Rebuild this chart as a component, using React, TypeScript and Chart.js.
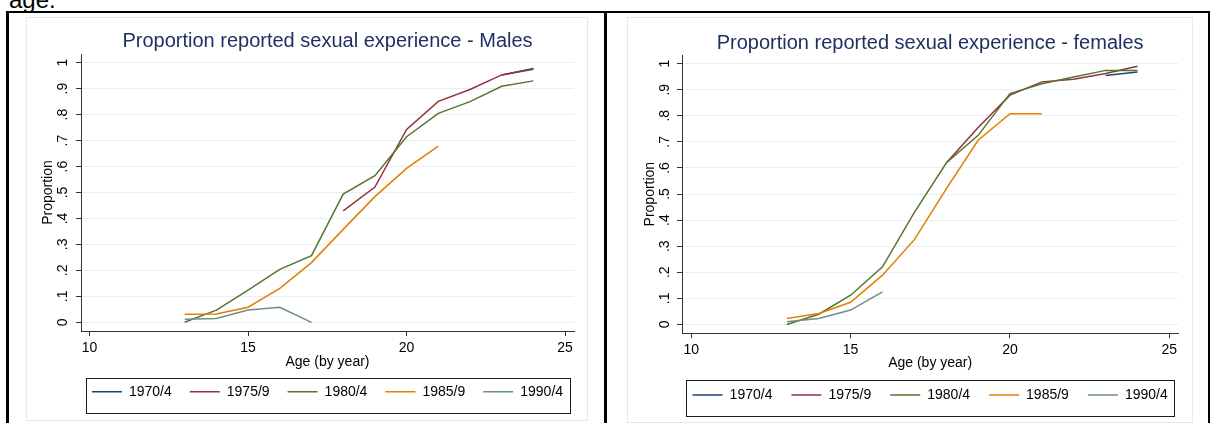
import React, { useEffect, useRef } from 'react';
import { Chart, registerables } from 'chart.js';

Chart.register(...registerables);

// ---------- data ----------
const ages = [13, 14, 15, 16, 17, 18, 19, 20, 21, 22, 23, 24];
const seriesLabels = ['1970/4', '1975/9', '1980/4', '1985/9', '1990/4'];
const seriesColors = ['#1a476f', '#90353b', '#55752f', '#e37e00', '#6e8e84'];

// Males
const males1970 = [null, null, null, null, null, null, null, null, null, null, 0.953, 0.978];
const males1975 = [null, null, null, null, null, 0.429, 0.521, 0.743, 0.851, 0.897, 0.953, 0.975];
const males1980 = [0.0, 0.047, 0.124, 0.204, 0.257, 0.494, 0.565, 0.715, 0.805, 0.85, 0.909, 0.93];
const males1985 = [0.031, 0.032, 0.058, 0.131, 0.23, 0.358, 0.484, 0.593, 0.679, null, null, null];
const males1990 = [0.012, 0.015, 0.047, 0.058, 0.0, null, null, null, null, null, null, null];

// Females
const females1970 = [null, null, null, null, null, null, null, null, null, null, 0.954, 0.968];
const females1975 = [null, null, null, null, null, 0.619, 0.755, 0.879, 0.93, 0.94, 0.962, 0.99];
const females1980 = [0.0, 0.039, 0.112, 0.221, 0.43, 0.619, 0.725, 0.885, 0.923, 0.949, 0.974, 0.974];
const females1985 = [0.023, 0.042, 0.085, 0.189, 0.325, 0.52, 0.706, 0.808, 0.808, null, null, null];
const females1990 = [0.01, 0.023, 0.055, 0.125, null, null, null, null, null, null, null, null];

const xTickValues = [10, 15, 20, 25];
const xTickLabels = ['10', '15', '20', '25'];
const yTickValues = [0, 0.1, 0.2, 0.3, 0.4, 0.5, 0.6, 0.7, 0.8, 0.9, 1];
const yTickLabels = ['0', '.1', '.2', '.3', '.4', '.5', '.6', '.7', '.8', '.9', '1'];

const FONT = "'Liberation Sans', Arial, sans-serif";

const legendBoxPlugin = {
  id: 'legendBox',
  afterLayout(chart: any) {
    const lg = chart.legend;
    if (!lg) return;
    const w = lg.right - lg.left;
    const c = (chart.chartArea.left + chart.chartArea.right) / 2;
    lg.left = c - w / 2;
    lg.right = c + w / 2;
  },
  afterDraw(chart: any, _args: any, opts: any) {
    const lg = chart.legend;
    if (!lg || !lg.legendHitBoxes || !lg.legendHitBoxes.length) return;
    const hb = lg.legendHitBoxes;
    const first = hb[0];
    const last = hb[hb.length - 1];
    const cy = first.top + first.height / 2;
    const l = Math.round(first.left - opts.padLeft) + 0.5;
    const r = Math.round(last.left + last.width + opts.padRight) + 0.5;
    const t = Math.round(cy - opts.above) + 0.5;
    const b = Math.round(cy + opts.below) + 0.5;
    const ctx = chart.ctx;
    ctx.save();
    ctx.strokeStyle = '#1a1a1a';
    ctx.lineWidth = 1;
    ctx.strokeRect(l, t, r - l, b - t);
    ctx.restore();
  },
};

type Geo = {
  left: number; top: number; width: number; height: number;
  titlePadTop: number; titlePadBottom: number;
  yAxisWidth: number; yTickPad: number; yTitlePad: number;
  xAxisHeight: number; xTickPad: number; xTitlePadB: number;
  legendPad: number; boxAbove: number; boxBelow: number; boxPadL: number; boxPadR: number;
  padRight: number; padBottom: number;
  xMin: number; xMax: number; yMin: number; yMax: number;
};

function StataChart({ title, series, geo }: { title: string; series: (number | null)[][]; geo: Geo }) {
  const ref = useRef<HTMLCanvasElement | null>(null);
  useEffect(() => {
    if (!ref.current) return;
    const datasets = series.map((vals, i) => ({
      label: seriesLabels[i],
      data: ages.map((a, j) => ({ x: a, y: vals[j] })),
      borderColor: seriesColors[i],
      backgroundColor: seriesColors[i],
      borderWidth: 1.5,
      pointRadius: 0,
      pointHoverRadius: 0,
      fill: false,
      tension: 0,
      spanGaps: false,
      order: series.length - i,
    }));
    const chart = new Chart(ref.current, {
      type: 'line',
      data: { datasets },
      plugins: [legendBoxPlugin],
      options: {
        animation: false,
        responsive: false,
        maintainAspectRatio: false,
        layout: { padding: { top: 0, left: 0, right: geo.padRight, bottom: geo.padBottom } },
        font: { family: FONT },
        scales: {
          x: {
            type: 'linear',
            min: geo.xMin,
            max: geo.xMax,
            afterBuildTicks: (axis: any) => { axis.ticks = xTickValues.map((v) => ({ value: v })); },
            afterFit: (axis: any) => { axis.height = geo.xAxisHeight; },
            ticks: {
              callback: (_v: any, i: number) => xTickLabels[i],
              autoSkip: false, minRotation: 0, maxRotation: 0,
              padding: geo.xTickPad,
              font: { family: FONT, size: 14 }, color: '#000',
            },
            grid: { drawOnChartArea: false, tickLength: 5, tickColor: '#333', color: '#333' },
            border: { color: '#333', width: 1 },
            title: {
              display: true, text: 'Age (by year)', color: '#000',
              font: { family: FONT, size: 14 }, padding: { top: 0, bottom: geo.xTitlePadB },
            },
          },
          y: {
            type: 'linear',
            min: geo.yMin,
            max: geo.yMax,
            afterBuildTicks: (axis: any) => { axis.ticks = yTickValues.map((v) => ({ value: v })); },
            afterFit: (axis: any) => { axis.width = geo.yAxisWidth; },
            ticks: {
              callback: (_v: any, i: number) => yTickLabels[i],
              autoSkip: false, minRotation: 90, maxRotation: 90, crossAlign: 'center',
              padding: geo.yTickPad,
              font: { family: FONT, size: 14 }, color: '#000',
            },
            grid: { color: '#e7eff2', lineWidth: 1, tickLength: 5, tickColor: '#333' },
            border: { color: '#333', width: 1 },
            title: {
              display: true, text: 'Proportion', color: '#000',
              font: { family: FONT, size: 14 }, padding: { top: geo.yTitlePad, bottom: 0 },
            },
          },
        },
        plugins: {
          title: {
            display: true, text: title, fullSize: false, color: '#1e3160',
            font: { family: FONT, size: 20, weight: 'normal' },
            padding: { top: geo.titlePadTop, bottom: geo.titlePadBottom },
          },
          legend: {
            display: true, position: 'bottom', fullSize: true,
            labels: {
              usePointStyle: true, pointStyle: 'line', pointStyleWidth: 30,
              padding: geo.legendPad, color: '#000',
              font: { family: FONT, size: 14 },
              sort: (a: any, b: any) => a.datasetIndex - b.datasetIndex,
            },
          },
          tooltip: { enabled: false },
          legendBox: { above: geo.boxAbove, below: geo.boxBelow, padLeft: geo.boxPadL, padRight: geo.boxPadR },
        } as any,
      } as any,
    });
    return () => chart.destroy();
  }, []);
  const cw = geo.width - 2;
  const ch = geo.height - 2;
  return (
    <div style={{ position: 'absolute', left: geo.left, top: geo.top, width: cw, height: ch, border: '1px solid #e2eaed', background: '#fff' }}>
      <canvas ref={ref} width={cw} height={ch} style={{ display: 'block', width: cw, height: ch }} />
    </div>
  );
}

const geoMales: Geo = {
  left: 26, top: 17, width: 562, height: 404,
  titlePadTop: 11.5, titlePadBottom: 0.5,
  yAxisWidth: 54, yTickPad: 7, yTitlePad: 12.9,
  xAxisHeight: 35.7, xTickPad: 3.6, xTitlePadB: -3.7,
  legendPad: 18, boxAbove: 14, boxBelow: 21, boxPadL: 6, boxPadR: 6.6,
  padRight: 13, padBottom: 11.3,
  xMin: 9.73, xMax: 25.28, yMin: -0.0335, yMax: 1.0335,
};

const geoFemales: Geo = {
  left: 627, top: 17, width: 566, height: 406,
  titlePadTop: 13.2, titlePadBottom: -0.2,
  yAxisWidth: 54, yTickPad: 6.2, yTitlePad: 13.6,
  xAxisHeight: 35.7, xTickPad: 3.3, xTitlePadB: -2.4,
  legendPad: 19, boxAbove: 15, boxBelow: 21, boxPadL: 6.3, boxPadR: 6.3,
  padRight: 13.7, padBottom: 10,
  xMin: 9.71, xMax: 25.28, yMin: -0.034, yMax: 1.033,
};

export default function App() {
  const line = (s: React.CSSProperties) => <div style={{ position: 'absolute', background: '#000', ...s }} />;
  return (
    <div style={{ position: 'fixed', left: 0, top: 0, width: 1211, height: 423, overflow: 'hidden', background: '#fff', fontFamily: FONT }}>
      <div style={{ position: 'absolute', left: 9, top: -12.3, fontSize: 24, lineHeight: '24px', color: '#000', whiteSpace: 'nowrap' }}>age.</div>
      {line({ left: 6, top: 11, width: 1204, height: 2 })}
      {line({ left: 6, top: 11, width: 3, height: 412 })}
      {line({ left: 604, top: 11, width: 3, height: 412 })}
      {line({ left: 1208, top: 11, width: 2, height: 412 })}
      <StataChart title="Proportion reported sexual experience - Males" series={[males1970, males1975, males1980, males1985, males1990]} geo={geoMales} />
      <StataChart title="Proportion reported sexual experience - females" series={[females1970, females1975, females1980, females1985, females1990]} geo={geoFemales} />
    </div>
  );
}
